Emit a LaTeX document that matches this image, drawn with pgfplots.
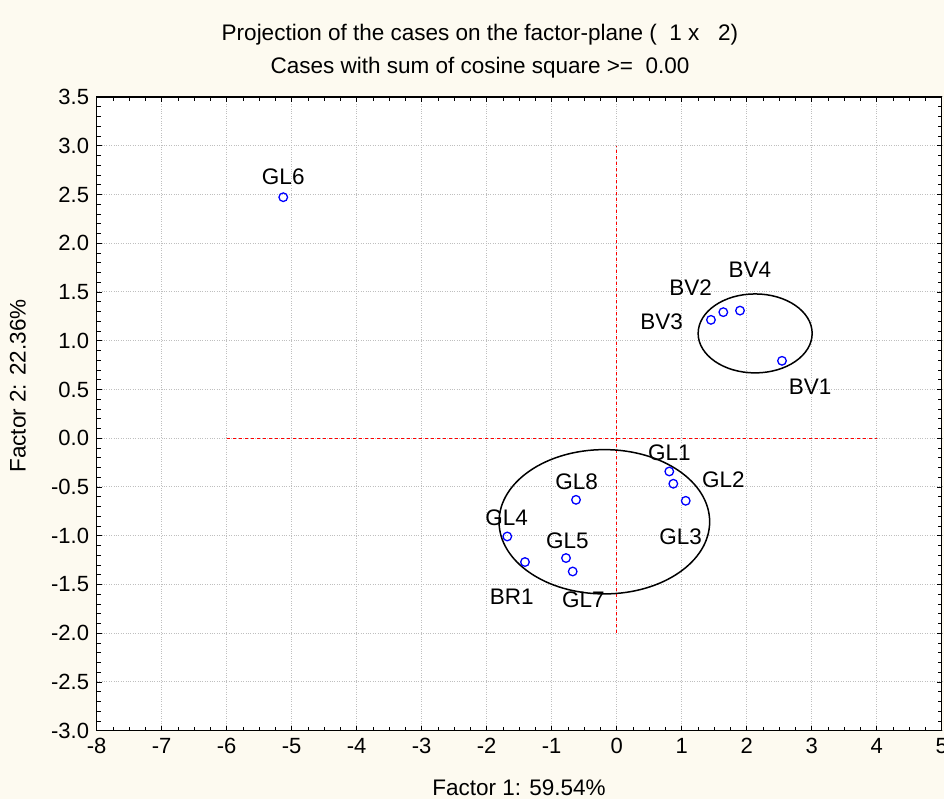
\documentclass[border=0pt]{standalone}
\usepackage{fontspec}
\setmainfont{Liberation Sans}
\usepackage{pgfplots}
\pgfplotsset{compat=1.18}
\definecolor{bgcream}{RGB}{253,250,240}
\definecolor{ptblue}{RGB}{0,0,255}
\begin{document}
\fontsize{22.5}{27}\selectfont
\begin{tikzpicture}
\fill[bgcream] (0,0) rectangle (944pt,799pt);
\begin{axis}[
  at={(96.7pt,68.3pt)}, anchor=south west,
  scale only axis, width=845pt, height=633.7pt,
  xmin=-8, xmax=5, ymin=-3, ymax=3.5,
  xtick={-8,-7,-6,-5,-4,-3,-2,-1,0,1,2,3,4,5},
  ytick={-3,-2.5,-2,-1.5,-1,-0.5,0,0.5,1,1.5,2,2.5,3,3.5},
  minor x tick num=3, minor y tick num=4,
  tick align=inside, major tick length=5pt, minor tick length=4pt,
  tick style={black, line width=0.8pt},
  axis line style={black, line width=1.2pt},
  axis background/.style={fill=white},
  grid=major, major grid style={gray!50, dotted, line width=1pt},
  every tick label/.append style={font=\fontsize{22}{26}\selectfont},
  /pgf/number format/assume math mode=true,
  yticklabel style={/pgf/number format/.cd, fixed, fixed zerofill, precision=1},
  xticklabel style={/pgf/number format/.cd, fixed, precision=0},
]
% red dashed reference lines
\addplot[red, dashed, line width=0.9pt, forget plot] coordinates {(-6,0) (4,0)};
\addplot[red, dashed, line width=0.9pt, forget plot] coordinates {(0,-2) (0,3)};
% ellipses
\draw[black, line width=1.5pt] (axis cs:2.13,1.075) ellipse [x radius=0.877, y radius=0.405];
\draw[black, line width=1.5pt] (axis cs:-0.19,-0.857) ellipse [x radius=1.62, y radius=0.74];
% cases
\addplot[only marks, mark=o, mark size=4.3pt, ptblue, mark options={line width=1.3pt}] coordinates {
  (-5.13,2.472)
  (2.543,0.794)
  (1.64,1.293)
  (1.45,1.214)
  (1.897,1.309)
  (0.809,-0.341)
  (0.871,-0.467)
  (1.062,-0.642)
  (-1.683,-1.008)
  (-0.78,-1.229)
  (-0.677,-1.367)
  (-0.626,-0.632)
  (-1.411,-1.270)
};
% labels
\node at (axis cs:-5.13,2.683) {GL6};
\node at (axis cs:2.05,1.727) {BV4};
\node at (axis cs:1.138,1.549) {BV2};
\node at (axis cs:0.692,1.196) {BV3};
\node at (axis cs:2.974,0.524) {BV1};
\node at (axis cs:0.809,-0.146) {GL1};
\node at (axis cs:1.642,-0.427) {GL2};
\node at (axis cs:0.985,-1.008) {GL3};
\node at (axis cs:-0.615,-0.444) {GL8};
\node at (axis cs:-1.692,-0.819) {GL4};
\node at (axis cs:-0.76,-1.052) {GL5};
\node at (axis cs:-1.615,-1.623) {BR1};
\node at (axis cs:-0.514,-1.657) {GL7};
\end{axis}
\node at (480pt,764pt) {Projection of the cases on the factor-plane (\ \ 1 x \ \ 2)};
\node at (480pt,731pt) {Cases with sum of cosine square >=\ \ 0.00};
\node at (519pt,11pt) {Factor 1: 59.54\%};
\node[rotate=90] at (18pt,413pt) {Factor 2: 22.36\%};
\pgfresetboundingbox
\useasboundingbox (0,0) rectangle (944pt,799pt);
\end{tikzpicture}
\end{document}
